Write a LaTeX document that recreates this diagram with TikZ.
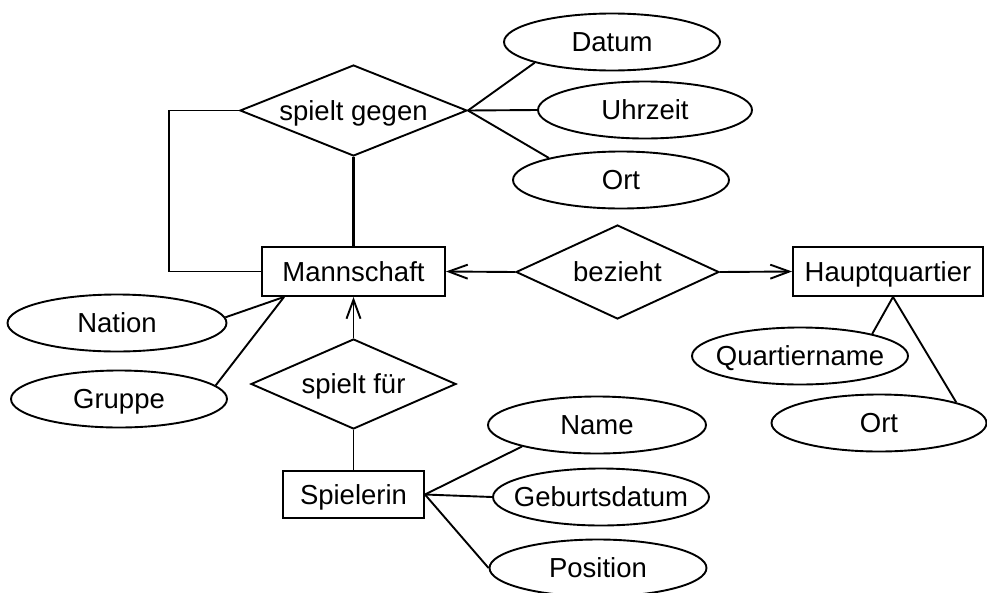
\documentclass[tikz,border=0pt]{standalone}
\usepackage{fontspec}
\setmainfont{Liberation Sans}
\usetikzlibrary{shapes.geometric,arrows.meta}
\newcommand\attrtext[1]{\makebox[0pt]{#1}}
\begin{document}
\begin{tikzpicture}[x=1pt,y=-1pt,
  every node/.style={font=\fontsize{27.5}{33}\selectfont, inner sep=0pt, text height=19.8pt, text depth=0pt},
  ent/.style={draw, line width=1.9pt, rectangle, minimum height=49pt},
  rel/.style={draw, line width=1.9pt, diamond},
  attr/.style={draw, line width=1.9pt, ellipse, minimum width=216pt, minimum height=57pt},
  conn/.style={line width=1.9pt},
  arr/.style={conn, -{Straight Barb[length=19pt,width=14pt]}},
]
\useasboundingbox (0,0) rectangle (987,592);

% entities
\node[ent, minimum width=183pt] (M) at (353.5,271.5) {Mannschaft};
\node[ent, minimum width=190pt] (H) at (888,271.5) {Hauptquartier};
\node[ent, minimum width=141pt, minimum height=47pt] (S) at (353.5,494.5) {Spielerin};

% relationships
\node[rel, aspect=2.5, minimum width=227pt, minimum height=91pt] (SG) at (353.5,110.5) {spielt gegen};
\node[rel, aspect=2.16, minimum width=203pt, minimum height=94pt] (B) at (617.5,272) {bezieht};
\node[rel, aspect=2.28, minimum width=205pt, minimum height=90pt] (SF) at (353.5,384) {spielt für};

% attributes
\node[attr] (Da) at (612,42) {\attrtext{Datum}};
\node[attr, minimum width=214pt] (U) at (645,110) {\attrtext{Uhrzeit}};
\node[attr] (O1) at (621,180) {\attrtext{Ort}};
\node[attr, minimum width=219pt] (N) at (117,323) {\attrtext{Nation}};
\node[attr] (G) at (119,399) {\attrtext{Gruppe}};
\node[attr] (Q) at (800,356) {\attrtext{Quartiername}};
\node[attr, minimum width=215pt] (O2) at (879,423) {\attrtext{Ort}};
\node[attr, minimum width=218pt] (Na) at (597,425) {\attrtext{Name}};
\node[attr] (Ge) at (601,497) {\attrtext{Geburtsdatum}};
\node[attr, minimum width=217pt] (P) at (598,568) {\attrtext{Position}};

% connectors
\draw[conn] (SG.west) -- ++(-70,0) |- (M.west);
\draw[line width=3pt] (SG.south) -- (M.north);
\draw[conn] (SG.east) -- (Da.195);
\draw[conn] (SG.east) -- (U.west);
\draw[conn] (SG.east) -- (O1.163);

\draw[arr] (B.west) -- (M.east);
\draw[arr] (B.east) -- (H.west);
\draw[arr] (SF.north) -- (M.south);
\draw[conn] (SF.south) -- (S.north);

\coordinate (mb) at ([xshift=23pt]M.south west);
\draw[conn] (mb) -- (N.3);
\draw[conn] (mb) -- (G.8);

\coordinate (hb) at ([xshift=5pt]H.south);
\draw[conn] (hb) -- (Q.17);
\draw[conn] (hb) -- (O2.15);

\draw[conn] (S.east) -- (Na.196);
\draw[conn] (S.east) -- (Ge.west);
\draw[conn] (S.east) -- (P.west);
\end{tikzpicture}
\end{document}
